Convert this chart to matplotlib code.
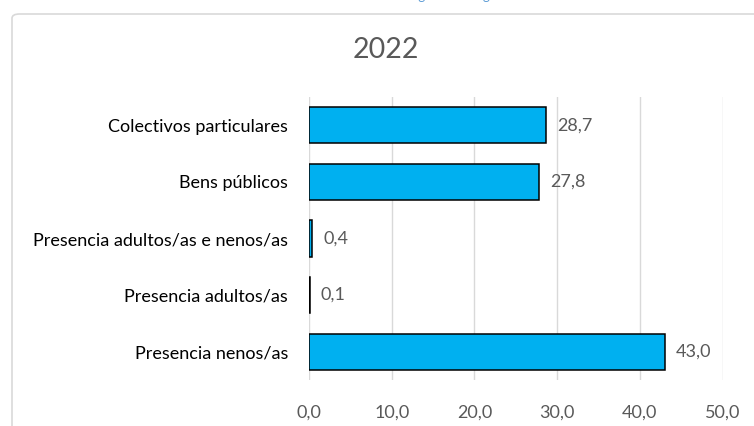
import matplotlib.pyplot as plt
from matplotlib.patches import FancyBboxPatch

# datos do gráfico
categorias = ['Presencia nenos/as', 'Presencia adultos/as',
              'Presencia adultos/as e nenos/as', 'Bens públicos',
              'Colectivos particulares']
valores = [43.0, 0.1, 0.4, 27.8, 28.7]
ticks_x = [0, 10, 20, 30, 40, 50]
titulo = '2022'
caption = 'Gráfico 12. Porcentaxe de colectivos segundo categoría de colectivo'

plt.rcParams['font.family'] = ['Lato', 'DejaVu Sans']
gris = '#595959'

fig = plt.figure(figsize=(7.54, 4.26), dpi=100)
ax = fig.add_axes([309/754, 1-380/426, (722.5-309)/754, (380-97)/426])

# marco do gráfico
marco = FancyBboxPatch((12/754, -0.2), 1.0, 1.2-14/426,
                       boxstyle='round,pad=0,rounding_size=0.01',
                       transform=fig.transFigure, facecolor='none',
                       edgecolor='#D9D9D9', linewidth=1.2, zorder=0)
fig.patches.append(marco)

# título do gráfico cortado pola parte superior, como no orixinal
fig.text(387/754, 1.0, caption, ha='center', va='baseline',
         fontsize=9.5, color='#5B9BD5')
fig.text(386/754, 1-50/426, titulo, ha='center', va='center',
         fontsize=20.5, color=gris)

ypos = range(len(categorias))
ax.barh(ypos, valores, height=0.64, color='#00B0F0', edgecolor='black',
        linewidth=1.1, zorder=3)
for y, v in zip(ypos, valores):
    ax.annotate(f'{v:.1f}'.replace('.', ','), (v, y), xytext=(8, 0),
                textcoords='offset points', va='center', ha='left',
                fontsize=13, color=gris)

ax.set_xlim(0, 50)
ax.set_ylim(-0.5, len(categorias)-0.5)
ax.set_xticks(ticks_x)
ax.set_xticklabels([f'{t:.1f}'.replace('.', ',') for t in ticks_x])
ax.set_yticks(list(ypos))
ax.set_yticklabels(categorias)
ax.tick_params(axis='x', length=0, pad=18, labelsize=13, labelcolor=gris)
ax.tick_params(axis='y', length=0, pad=15, labelsize=13, labelcolor='black')
ax.grid(axis='x', color='#D9D9D9', linewidth=1, zorder=0)
for s in ax.spines.values():
    s.set_visible(False)

fig.savefig('out.png', dpi=100)
